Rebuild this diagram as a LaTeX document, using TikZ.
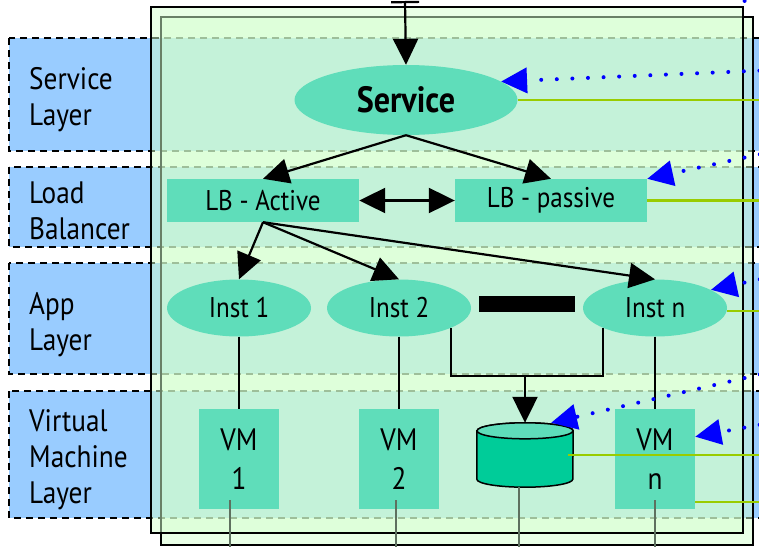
\documentclass[tikz,border=0pt]{standalone}
\usepackage{fontspec}
\setmainfont{PT Sans}[FakeStretch=0.88]
\usetikzlibrary{arrows.meta,shapes.geometric}

\definecolor{bandblue}{HTML}{99CCFF}
\definecolor{panelgreen}{HTML}{D3FFCE}
\definecolor{nodegreen}{HTML}{5FDDBA}
\definecolor{dbgreen}{HTML}{00CC99}
\definecolor{feedgreen}{HTML}{99CC00}
\definecolor{stubgray}{HTML}{5E705F}

\begin{document}
\begin{tikzpicture}[
        x=1pt, y=-1pt,
        >={Triangle[length=26pt,width=25pt]},
        font=\fontsize{28.5}{39}\selectfont,
        every node/.style={align=center, inner sep=0pt},
        band/.style={draw=black, line width=1.5pt, dash pattern=on 7pt off 5pt, fill=bandblue},
        panel/.style={draw=black, fill=panelgreen, fill opacity=0.5},
        layername/.style={anchor=west, align=left, font=\fontsize{31}{36}\selectfont},
        oval/.style={ellipse, fill=nodegreen, minimum width=144pt, minimum height=57pt},
        lbbox/.style={rectangle, fill=nodegreen, minimum width=192pt, minimum height=43pt},
        vmbox/.style={rectangle, fill=nodegreen, minimum width=80pt, minimum height=100pt,
                      font=\fontsize{31}{39}\selectfont},
        dbshape/.style={draw=black, line width=1.5pt},
        flow/.style={->, line width=2.2pt},
        link/.style={line width=1.3pt},
        stub/.style={draw=stubgray, line width=1.3pt},
        feed/.style={draw=feedgreen, line width=2.5pt},
        probe/.style={->, blue, line width=4pt, line cap=round, dash pattern=on 0pt off 15.6pt}
    ]

        % --- Koordinaten ---
        % Spalten der Instanzen / VMs
        \def\colA{239}
        \def\colB{399}
        \def\colN{655}
        % Zeilen
        \def\yInst{308}
        \def\yVM{459}
        % rechter Rand (ausserhalb des Bildes)
        \def\xRight{775}

        \useasboundingbox (0,0) rectangle (759,546);
        \clip (0,0) rectangle (759,546);

        % --- Schichten (Baender) ---
        \draw[band] (9,38) rectangle (\xRight,151);
        \draw[band] (9,167) rectangle (\xRight,247);
        \draw[band] (9,263) rectangle (\xRight,374);
        \draw[band] (9,391) rectangle (\xRight,518);

        % --- Container ---
        \draw[panel, line width=2pt] (161,17) rectangle (753,545);
        \draw[panel, line width=2.5pt] (151,7) rectangle (743,533);

        % --- Schicht-Namen ---
        \node[layername] (nameService) at (29,100) {Service\\Layer};
        \node[layername] (nameLB) at (29,211) {Load\\Balancer};
        \node[layername] (nameApp) at (29,325) {App\\Layer};
        \node[layername] (nameVM) at (29,460) {Virtual\\Machine\\Layer};

        % --- Knoten ---
        \node[oval, minimum width=223pt, minimum height=70pt,
              font=\fontsize{36.5}{40}\selectfont\bfseries] (svc) at (406,100) {Service};

        \node[lbbox] (lbact) at (263,200.5) {LB - Active};
        \node[lbbox] (lbpas) at (551,200.5) {LB - passive};

        \node[oval] (inst1) at (\colA,\yInst) {Inst 1};
        \node[oval] (inst2) at (\colB,\yInst) {Inst 2};
        \node[oval] (instn) at (\colN,\yInst) {Inst n};
        \node[fill=black, minimum width=96pt, minimum height=16pt] (more) at (527,304) {};

        \node[vmbox] (vm1) at (\colA,\yVM) {VM\\1};
        \node[vmbox] (vm2) at (\colB,\yVM) {VM\\2};
        \node[vmbox] (vmn) at (\colN,\yVM) {VM\\n};

        % Datenbank (Zylinder)
        \node[minimum width=96pt, minimum height=64pt] (db) at (525,455) {};
        \filldraw[dbshape, fill=dbgreen] ([yshift=-8pt]db.north west)
            -- ([yshift=8pt]db.south west)
            arc[start angle=180, end angle=360, x radius=48pt, y radius=8pt]
            -- ([yshift=-8pt]db.north east)
            arc[start angle=0, end angle=180, x radius=48pt, y radius=8pt] -- cycle;
        \filldraw[dbshape, fill=nodegreen] ([yshift=-8pt]db.north)
            ellipse[x radius=48pt, y radius=8pt];

        % --- Verbindungen ---
        \coordinate (feedin) at (405,1);
        \draw[line width=2.2pt, {Bar[width=28pt]}->] (feedin) -- (svc.north);

        \draw[flow] (svc.south) -- (lbact.north);
        \draw[flow] (svc.south) -- (lbpas.north);
        \draw[flow, <->] (lbact.east) -- (lbpas.west);

        \draw[flow] (lbact.south) -- (inst1.north);
        \draw[flow] (lbact.south) -- (inst2.north);
        \draw[flow] (lbact.south) -- (instn.north);

        \coordinate (dbjoin) at (525,376);
        \draw[line width=2.2pt] (inst2.-21) |- (dbjoin) -| (instn.-159);
        \draw[flow] (dbjoin) -- (db.north);

        \draw[link] (inst1.south) -- (vm1.north);
        \draw[link] (inst2.south) -- (vm2.north);
        \draw[link] (instn.south) -- (vmn.north);

        % Leitungen nach unten
        \draw[stub] ([xshift=-9pt,yshift=9pt]vm1.south) -- ++(0,60);
        \draw[stub] ([xshift=-3pt,yshift=9pt]vm2.south) -- ++(0,60);
        \draw[stub] ([xshift=-6pt]db.south) -- ++(0,70);
        \draw[stub] ([yshift=9pt]vmn.south) -- ++(0,60);

        % gruene Leitungen nach rechts
        \draw[feed] (svc.east) -- ++(300,0);
        \draw[feed] (lbpas.east) -- ++(150,0);
        \draw[feed] ([yshift=-3pt]instn.east) -- ++(60,0);
        \draw[feed] ([xshift=-5pt]db.east) -- ++(220,0);
        \draw[feed] ([yshift=-43pt]vmn.east) -- ++(90,0);

        % blaue Ueberwachung
        \coordinate (tapSvc) at (\xRight,70);
        \coordinate (tapLB) at (\xRight,151);
        \coordinate (tapInst) at (\xRight,276);
        \coordinate (tapDB) at (\xRight,371);
        \coordinate (tapVM) at (\xRight,422);
        \coordinate (tapTop) at (\xRight,-6);
        \coordinate (tapTopEnd) at (740,2);
        \draw[probe] (tapSvc) -- (svc.11);
        \draw[probe] (tapLB) -- (lbpas.north east);
        \draw[probe] (tapInst) -- (instn.18);
        \draw[probe] (tapDB) -- (db.51);
        \draw[probe] (tapVM) -- (vmn.29);
        \draw[probe, -] (tapTop) -- (tapTopEnd);

\end{tikzpicture}
\end{document}
